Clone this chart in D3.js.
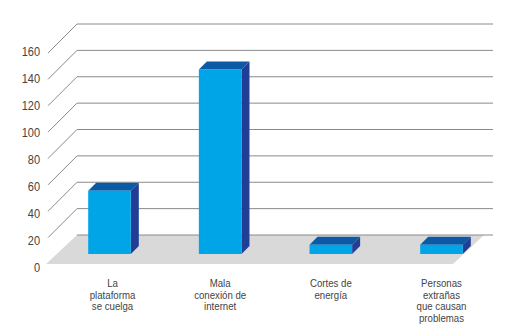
<!DOCTYPE html>
<html>
<head>
<meta charset="utf-8">
<script src="https://cdn.jsdelivr.net/npm/d3@7"></script>
<style>
  body { margin: 0; background: #fff; }
  .axis-text { font-family: "Liberation Sans", Arial, sans-serif; font-size: 12.5px; fill: #444; }
  .cat-text { font-family: "Liberation Sans", Arial, sans-serif; font-size: 11.5px; fill: #444; }
</style>
</head>
<body>
<div id="chart"></div>
<script>
// data
const categories = ["La plataforma se cuelga", "Mala conexión de internet", "Cortes de energía", "Personas extrañas que causan problemas"];
const categoryLines = [
  ["La", "plataforma", "se cuelga"],
  ["Mala", "conexión de", "internet"],
  ["Cortes de", "energía"],
  ["Personas", "extrañas", "que causan", "problemas"]
];
const values = [48, 140, 7, 7];
const tickValues = [0, 20, 40, 60, 80, 100, 120, 140, 160];

const width = 514, height = 332;

// 3d depth of the chart box (back wall offset)
const depthX = 31, depthY = 29;
// bars sit between these depths
const barFront = 10, barBack = 18;

const svg = d3.select("#chart")
  .append("svg")
    .attr("width", width)
    .attr("height", height);

// scales on the front plane
const xScale = d3.scaleBand()
  .domain(categories)
  .range([45, 486])
  .paddingInner(0.615)
  .paddingOuter(0.3);

const yScale = d3.scaleLinear()
  .domain([0, 160])
  .range([264, 53]);

// tick labels are spaced a bit wider than the grid
const yLabelScale = d3.scaleLinear()
  .domain([0, 160])
  .range([268, 52]);

const floorLeft = 46, floorRight = 453, gridRight = 493;

// grid: diagonal on the left side, then horizontal along the back wall
const grid = svg.append("g").attr("class", "grid");
grid.selectAll("path")
  .data(tickValues.slice(1))
  .enter()
  .append("path")
    .attr("d", d => {
      const y = yScale(d);
      return `M${floorLeft + 2},${y} L${floorLeft + depthX},${y - depthY} L${gridRight},${y - depthY}`;
    })
    .attr("fill", "none")
    .attr("stroke", "#8a8a8a")
    .attr("stroke-width", 1);

// floor
const y0 = yScale(0);
svg.append("path")
  .attr("d", `M${floorLeft},${y0} L${floorLeft + depthX},${y0 - depthY} L${floorRight + depthX},${y0 - depthY} L${floorRight},${y0} Z`)
  .attr("fill", "#d9d9d9");

// back line of the floor
svg.append("line")
  .attr("x1", floorLeft + depthX).attr("x2", gridRight)
  .attr("y1", y0 - depthY).attr("y2", y0 - depthY)
  .attr("stroke", "#8a8a8a");

// bars
const bw = xScale.bandwidth();
const bd = barBack - barFront;
const bars = svg.append("g")
  .selectAll("g")
  .data(values)
  .enter()
  .append("g")
    .attr("transform", (d, i) => `translate(${barFront},${-barFront})`);

// top face
bars.append("path")
  .attr("d", (d, i) => {
    const x = xScale(categories[i]), y = yScale(d);
    return `M${x},${y} L${x + bd},${y - bd} L${x + bw + bd},${y - bd} L${x + bw},${y} Z`;
  })
  .attr("fill", "#0c5aa6");

// side face
bars.append("path")
  .attr("d", (d, i) => {
    const x = xScale(categories[i]) + bw, y = yScale(d);
    return `M${x},${y} L${x + bd},${y - bd} L${x + bd},${y0 - bd} L${x},${y0} Z`;
  })
  .attr("fill", "#213e96");

// front face
bars.append("rect")
  .attr("x", (d, i) => xScale(categories[i]))
  .attr("y", d => yScale(d))
  .attr("width", bw)
  .attr("height", d => y0 - yScale(d))
  .attr("fill", "#00a5e8");

// y tick labels (narrowed to look like the condensed original face)
svg.append("g")
  .selectAll("text")
  .data(tickValues)
  .enter()
  .append("text")
    .attr("class", "axis-text")
    .attr("transform", d => `translate(40,${yLabelScale(d)}) scale(0.88,1)`)
    .attr("dy", "0.35em")
    .attr("text-anchor", "end")
    .text(d => d);

// category labels
const catLabels = svg.append("g")
  .selectAll("text")
  .data(categories)
  .enter()
  .append("text")
    .attr("class", "cat-text")
    .attr("text-anchor", "middle")
    .attr("transform", (d, i) => `translate(${xScale(d) + bw / 2 + barFront + (i === 0 ? 3 : 0)},287) scale(0.84,1)`);

catLabels.selectAll("tspan")
  .data((d, i) => categoryLines[i])
  .enter()
  .append("tspan")
    .attr("x", 0)
    .attr("dy", (d, j) => j === 0 ? 0 : 11.7)
    .text(d => d);
</script>
</body>
</html>
